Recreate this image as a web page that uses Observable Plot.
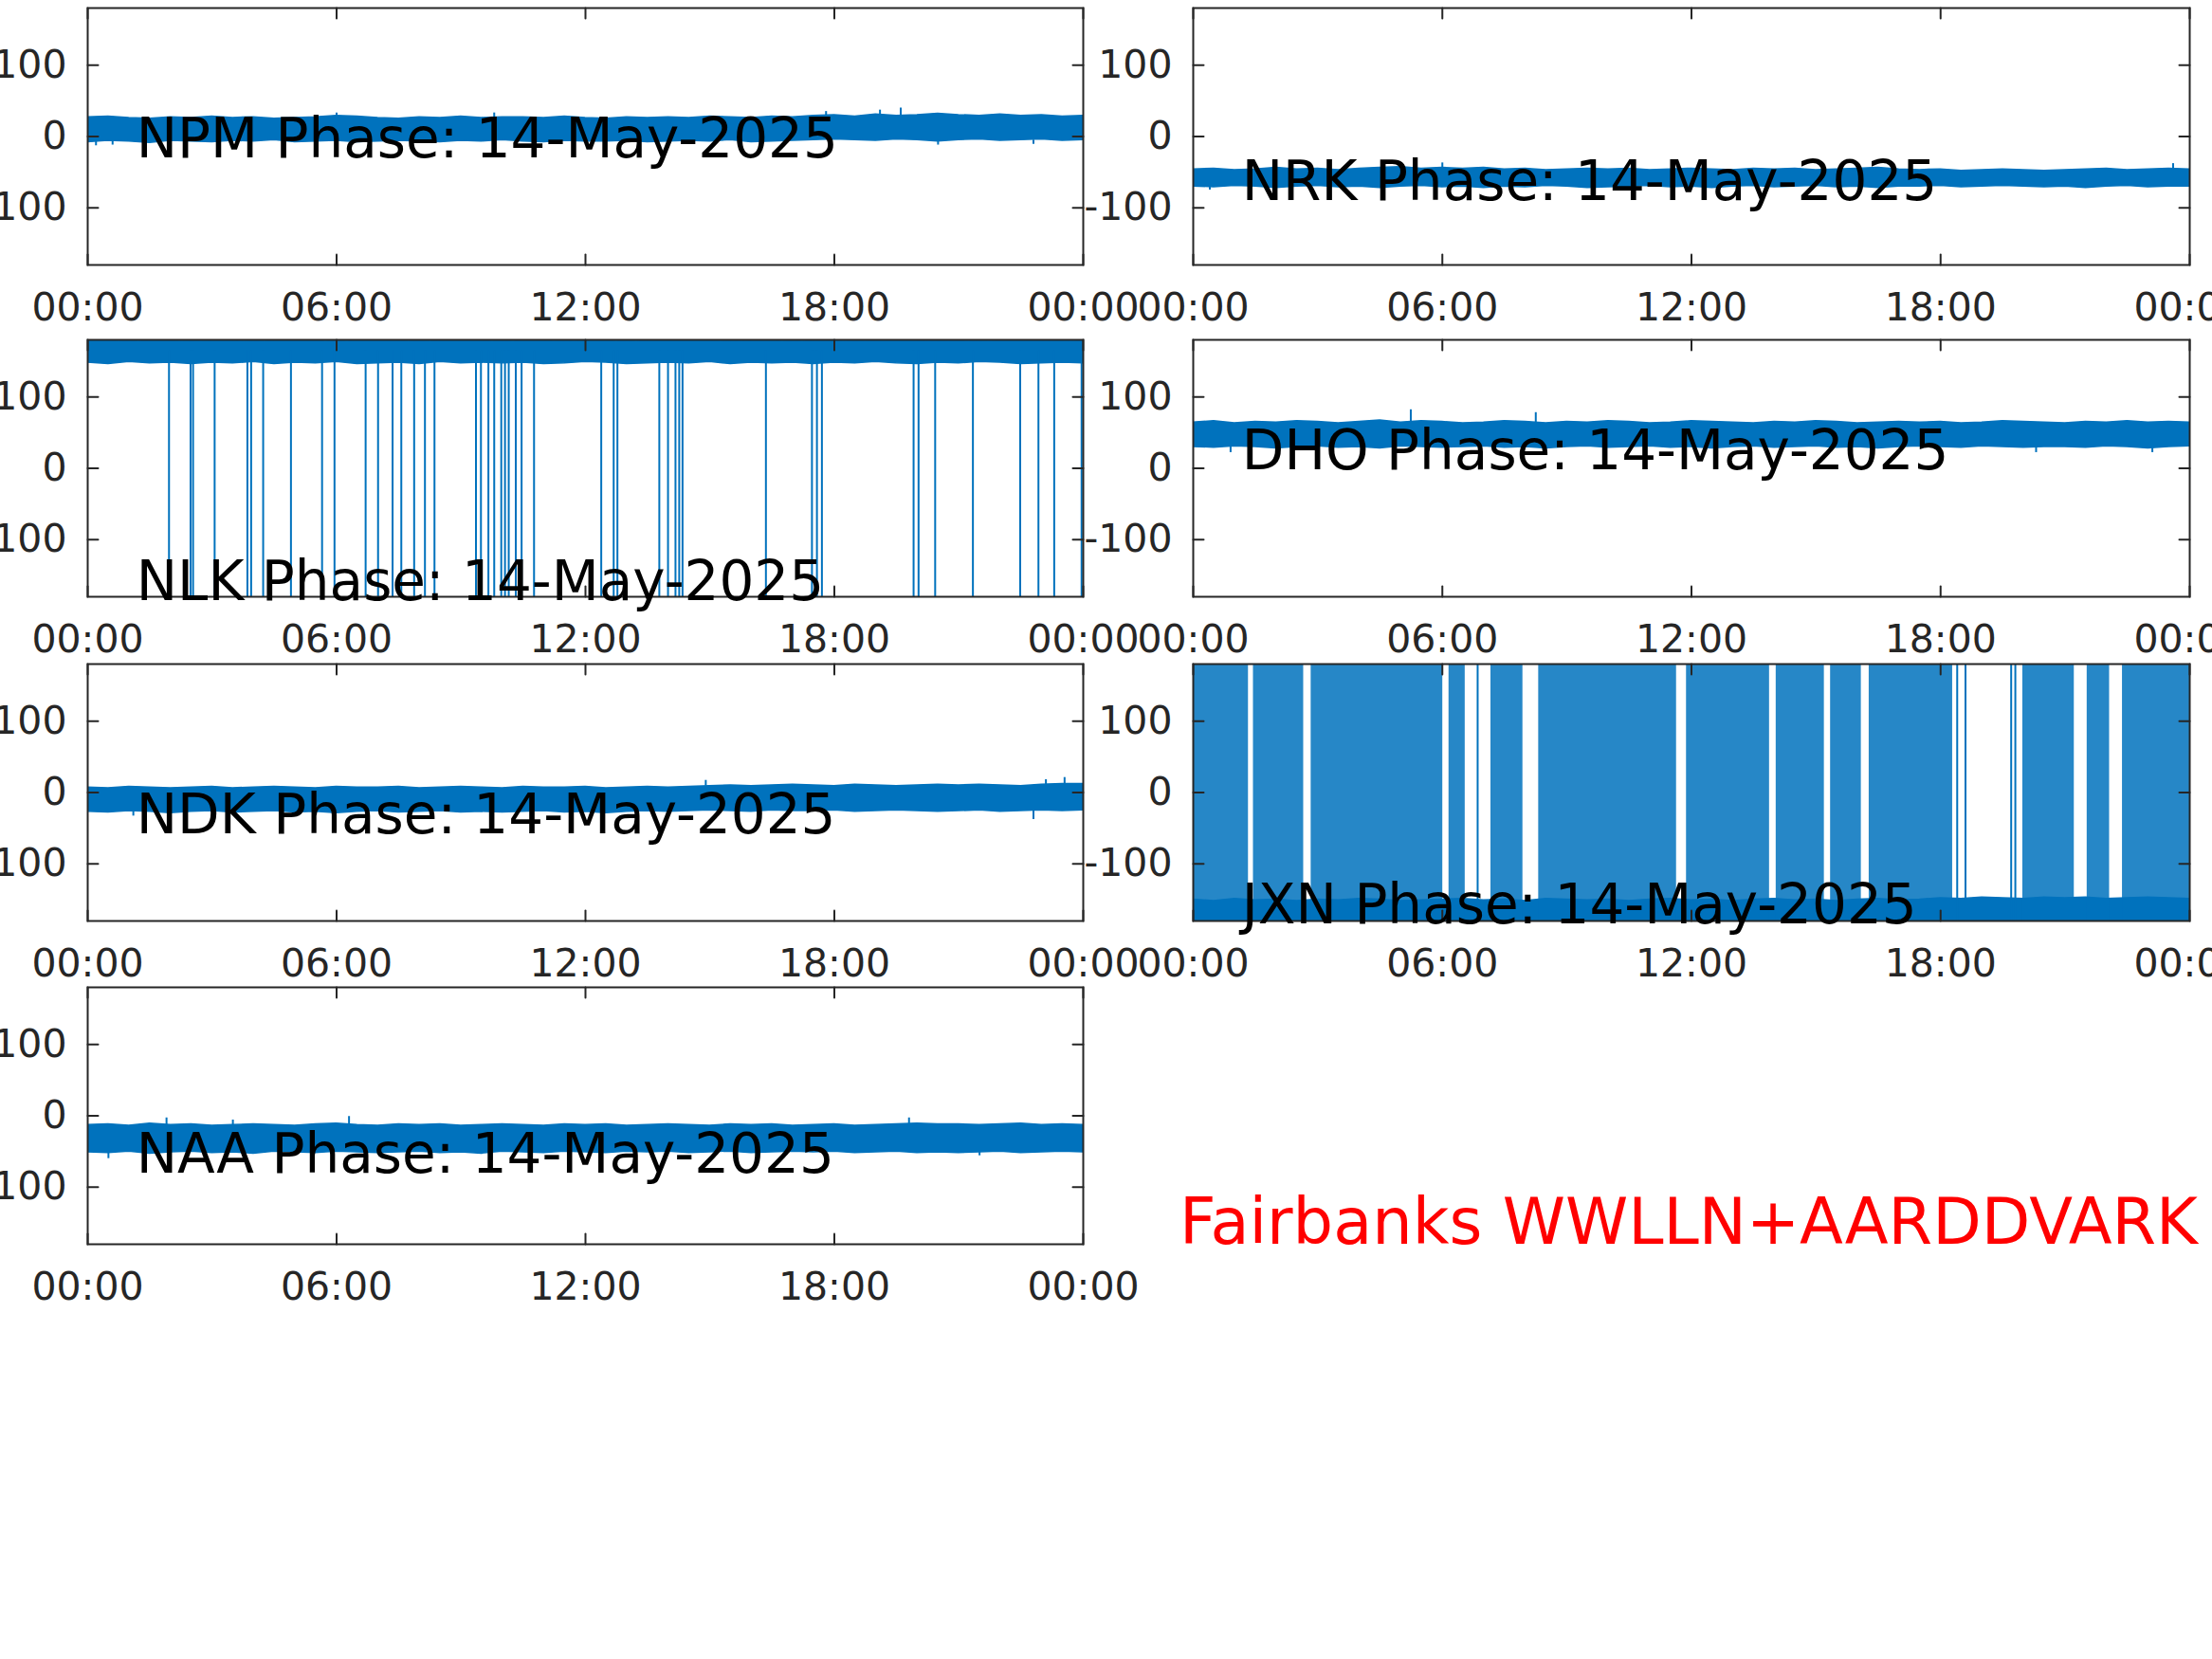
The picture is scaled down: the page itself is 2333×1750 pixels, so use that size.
<!DOCTYPE html>
<html>
<head>
<meta charset="utf-8">
<script src="https://cdn.jsdelivr.net/npm/d3@7"></script>
<script src="https://cdn.jsdelivr.net/npm/@observablehq/plot@0.6"></script>
<style>
html, body { margin: 0; padding: 0; background: #fff; }
#root { position: relative; width: 2333px; height: 1750px; overflow: hidden; background: #fff; font-family: "DejaVu Sans"; }
.panel { position: absolute; }
#caption { position: absolute; left: 1244px; top: 1256px; color: #ff0000; font-family: "DejaVu Sans"; font-size: 67px; line-height: 67px; white-space: nowrap; }
</style>
</head>
<body>
<div id="root"><div id="caption">Fairbanks WWLLN+AARDDVARK</div></div>
<script>
// ---------------- data ----------------
const dateLabel = "14-May-2025";
const stations = ["NPM", "NRK", "NLK", "DHO", "NDK", "JXN", "NAA"];

// sample times (hours of the day) for the band envelopes
const hours = [
  0, 0.5, 1, 1.5, 2, 2.5, 3,
  3.5, 4, 4.5, 5, 5.5, 6, 6.5,
  7, 7.5, 8, 8.5, 9, 9.5, 10,
  10.5, 11, 11.5, 12, 12.5, 13, 13.5,
  14, 14.5, 15, 15.5, 16, 16.5, 17,
  17.5, 18, 18.5, 19, 19.5, 20, 20.5,
  21, 21.5, 22, 22.5, 23, 23.5, 24
];

// phase envelopes (degrees): lower / upper edge of the noisy trace
const npmLo = [-8,-6,-7,-9,-6,-7,-8, -6,-7,-5,-8,-7,-6,-8, -7,-6,-7,-8,-6,-7,-5, -7,-8,-6,-7,-7,-6,-8, -7,-6,-7,-5,-8,-7,-6, -5,-4,-5,-6,-4,-5,-7, -5,-4,-6,-5,-4,-6,-5];
const npmHi = [27,28,26,25,27,26,28, 26,27,25,26,27,29,28, 26,25,27,26,28,26,27, 27,26,28,26,25,27,26, 27,26,28,27,26,28,27, 29,30,28,31,29,30,32, 30,29,31,29,30,28,29];

const nrkLo = [-70,-71,-69,-70,-72,-70,-69, -71,-70,-72,-70,-69,-71,-70, -72,-70,-71,-69,-70,-72,-71, -70,-69,-71,-70,-72,-70,-69, -71,-70,-69,-71,-70,-72,-70, -70,-69,-71,-70,-69,-70,-71, -70,-72,-70,-69,-71,-70,-70];
const nrkHi = [-46,-45,-47,-46,-44,-46,-45, -47,-45,-44,-43,-45,-44,-45, -44,-46,-45,-47,-46,-45,-46, -45,-47,-46,-45,-46,-47,-45, -46,-45,-47,-46,-45,-44,-46, -47,-46,-48,-47,-46,-47,-48, -47,-46,-45,-47,-46,-45,-46];

const nlkLo = [148,146,149,147,148,146,148, 147,149,146,148,147,149,146, 147,148,146,149,147,148,147, 148,146,147,149,148,146,147, 148,147,149,146,148,147,148, 146,148,147,149,147,146,148, 147,149,148,146,147,148,147];
const nlkHi = [179,179,178,179,179,178,179, 179,178,179,179,179,178,179, 179,179,178,179,179,179,178, 179,179,178,179,179,178,179, 179,179,179,178,179,179,178, 179,179,178,179,179,179,178, 179,178,179,179,179,178,179];

const dhoLo = [30,29,31,30,28,30,31, 29,30,28,31,30,29,30, 31,29,30,28,30,31,29, 30,31,29,30,28,30,31, 29,30,31,29,30,28,30, 31,30,29,31,30,29,30, 30,29,31,30,28,30,31];
const dhoHi = [64,66,63,65,64,66,65, 63,65,67,64,66,65,63, 64,66,65,63,65,64,66, 65,63,64,66,65,64,63, 65,64,66,65,63,64,65, 64,65,63,64,66,65,64, 63,65,64,66,64,65,64];

const ndkLo = [-27,-28,-26,-27,-29,-27,-26, -28,-27,-26,-28,-27,-29,-27, -26,-28,-27,-26,-28,-27,-28, -27,-26,-28,-27,-29,-27,-26, -27,-26,-25,-26,-27,-25,-26, -26,-25,-27,-26,-25,-26,-27, -26,-25,-27,-26,-25,-26,-25];
const ndkHi = [7,6,8,7,6,7,8, 6,7,8,7,6,8,7, 7,8,6,7,8,7,6, 8,7,7,8,6,7,8, 7,8,9,10,9,10,11, 10,9,11,10,9,10,11, 10,11,10,9,11,12,12];

const jxnLo = [-180,-180,-180,-180,-180,-180,-180, -180,-180,-180,-180,-180,-180,-180, -180,-180,-180,-180,-180,-180,-180, -180,-180,-180,-180,-180,-180,-180, -180,-180,-180,-180,-180,-180,-180, -180,-180,-180,-180,-180,-180,-180, -180,-180,-180,-180,-180,-180,-180];
const jxnHi = [-150,-152,-149,-151,-150,-152,-150, -151,-149,-150,-152,-151,-150,-149, -151,-150,-152,-149,-150,-151,-150, -152,-150,-149,-151,-150,-152,-150, -149,-151,-150,-152,-150,-149,-151, -150,-148,-149,-147,-148,-149,-147, -148,-147,-149,-148,-147,-148,-149];

const naaLo = [-51,-52,-50,-53,-51,-50,-52, -51,-53,-50,-51,-52,-50,-51, -52,-51,-50,-52,-51,-53,-50, -51,-52,-50,-51,-52,-50,-51, -50,-52,-51,-50,-52,-51,-50, -51,-50,-52,-51,-50,-52,-51, -52,-51,-50,-52,-51,-50,-51];
const naaHi = [-13,-12,-14,-11,-13,-12,-14, -13,-12,-13,-14,-12,-11,-13, -14,-12,-13,-12,-14,-13,-12, -13,-14,-12,-13,-12,-14,-13, -12,-13,-14,-12,-13,-12,-14, -13,-12,-14,-13,-12,-11,-12, -12,-13,-12,-11,-13,-12,-13];

// isolated noise spikes beyond the band: hour, base phase, tip phase
const spikeHour = {
  NPM: [0.2, 0.6, 6.0, 9.8, 17.8, 19.1, 19.6, 20.5, 22.8],
  NRK: [0.4, 6.0, 23.6],
  DHO: [0.9, 5.24, 8.25, 20.3, 23.1],
  NDK: [1.1, 14.9, 22.8, 23.1, 23.55],
  NAA: [0.5, 1.9, 3.5, 6.3, 19.8, 21.5]
};
const spikeBase = {
  NPM: [-6, -6, 26, 26, 28, 29, 30, -5, -5],
  NRK: [-70, -45, -46],
  DHO: [30, 64, 64, 30, 30],
  NDK: [-27, 9, -26, 11, 12],
  NAA: [-51, -13, -13, -13, -12, -51]
};
const spikeTip = {
  NPM: [-13, -12, 33, 33, 35, 37, 40, -12, -11],
  NRK: [-75, -37, -38],
  DHO: [22, 82, 78, 22, 22],
  NDK: [-33, 17, -38, 18, 21],
  NAA: [-60, -3, -6, -1, -3, -56]
};

// phase-wrap events (hours) where the trace jumps across +/-180
const nlkWrapHours = [1.96,2.48,2.54,3.06,3.85,3.94,4.23,4.90,5.65,5.95,6.70,7.00,7.35,7.56,7.87,8.13,8.36,
  9.36,9.48,9.66,9.80,9.97,10.06,10.15,10.32,10.46,10.76,12.38,12.68,12.77,13.78,13.99,14.17,14.26,14.34,
  16.35,17.46,17.58,17.70,19.91,20.03,20.43,21.34,22.48,22.92,23.30,23.96];
// JXN: spans (start hour, end hour) of continuous wrapping, plus isolated wraps
const jxnWrapStart = [0.00,1.45,2.84,6.16,7.17,8.32,11.88,14.04,15.35,16.28,19.98,21.53,22.38];
const jxnWrapEnd   = [1.33,2.66,6.01,6.55,7.94,11.64,13.88,15.20,16.09,18.29,21.22,22.07,24.00];
const jxnWrapHours = [6.85,18.40,18.60,19.70,19.80];

// label anchor phase (deg) for each station title
const labelPhase = [-5, -64.5, -160, 22.7, -33, -159, -54.7];
const labelHour = 1.17;

// axes
const xDomain = [0, 24];
const yDomain = [-180, 180];
const xTicks = [0, 6, 12, 18, 24];
const xTickLabels = ["00:00", "06:00", "12:00", "18:00", "00:00"];
const yTicks = [-100, 0, 100];
const yTickLabels = ["-100", "0", "100"];

// ---------------- drawing ----------------
const blue = "#0072BD";
const axisColor = "#262626";
const envelopes = {
  NPM: [npmLo, npmHi], NRK: [nrkLo, nrkHi], NLK: [nlkLo, nlkHi], DHO: [dhoLo, dhoHi],
  NDK: [ndkLo, ndkHi], JXN: [jxnLo, jxnHi], NAA: [naaLo, naaHi]
};
const wrapLines = { NLK: nlkWrapHours, JXN: jxnWrapHours };
const wrapSpans = { JXN: jxnWrapStart.map((s, i) => ({s, e: jxnWrapEnd[i]})) };

const colX = [92, 1258], colW = [1050, 1051];
const rowY = [8, 358, 700, 1041], panelH = 271;
const ml = 110, mr = 80, mt = 20, mb = 80;
const tickShape = { draw(ctx, l) { ctx.moveTo(0, 0); ctx.lineTo(0, -l); } };

const root = document.getElementById("root");
stations.forEach((st, i) => {
  const col = i === 6 ? 0 : i % 2;
  const row = Math.floor(i / 2);
  const w = colW[col];
  const [lo, hi] = envelopes[st];
  const rows = hours.map((t, k) => ({t, lo: lo[k], hi: hi[k]}));
  const marks = [
    Plot.areaY(rows, {x: "t", y1: "lo", y2: "hi", fill: blue, stroke: blue, strokeWidth: 1.5, clip: true})
  ];
  if (spikeHour[st]) {
    const sp = spikeHour[st].map((t, k) => ({t, b: spikeBase[st][k], e: spikeTip[st][k]}));
    marks.push(Plot.ruleX(sp, {x: "t", y1: "b", y2: "e", stroke: blue, strokeWidth: 2, clip: true}));
  }
  if (wrapSpans[st]) {
    marks.push(Plot.rectX(wrapSpans[st], {x1: "s", x2: "e", y1: () => yDomain[0], y2: () => yDomain[1], fill: blue, fillOpacity: 0.85, clip: true}));
  }
  if (wrapLines[st]) {
    marks.push(Plot.ruleX(wrapLines[st], {x: d => d, y1: () => yDomain[0], y2: () => (st === "NLK" ? 165 : yDomain[1]), stroke: blue, strokeWidth: 2, clip: true}));
  }
  marks.push(
    Plot.frame({stroke: axisColor, strokeWidth: 2}),
    Plot.vector(xTicks, {x: d => d, frameAnchor: "bottom", rotate: 0, anchor: "start", length: 11, shape: tickShape, stroke: axisColor, strokeWidth: 2}),
    Plot.vector(xTicks, {x: d => d, frameAnchor: "top", rotate: 180, anchor: "start", length: 11, shape: tickShape, stroke: axisColor, strokeWidth: 2}),
    Plot.vector(yTicks, {y: d => d, frameAnchor: "left", rotate: 90, anchor: "start", length: 11, shape: tickShape, stroke: axisColor, strokeWidth: 2}),
    Plot.vector(yTicks, {y: d => d, frameAnchor: "right", rotate: -90, anchor: "start", length: 11, shape: tickShape, stroke: axisColor, strokeWidth: 2}),
    Plot.axisX({anchor: "bottom", ticks: xTicks, tickSize: 0, tickPadding: 29, tickFormat: d => xTickLabels[xTicks.indexOf(d)], fontSize: 41, fill: axisColor, label: null}),
    Plot.axisY({anchor: "left", ticks: yTicks, tickSize: 0, tickPadding: 22, tickFormat: d => yTickLabels[yTicks.indexOf(d)], fontSize: 41, fill: axisColor, label: null}),
    Plot.text([`${st} Phase: ${dateLabel}`], {x: () => labelHour, y: () => labelPhase[i], text: d => d, textAnchor: "start", lineAnchor: "middle", fontSize: 58, fill: "#000"})
  );
  const svg = Plot.plot({
    width: w + ml + mr,
    height: panelH + mt + mb,
    marginLeft: ml, marginRight: mr, marginTop: mt, marginBottom: mb,
    x: {domain: xDomain, label: null},
    y: {domain: yDomain, label: null},
    marks
  });
  svg.style.overflow = "visible";
  svg.style.maxWidth = "none";
  svg.style.background = "transparent";
  svg.setAttribute("font-family", "DejaVu Sans");
  const div = document.createElement("div");
  div.className = "panel";
  div.style.left = (colX[col] - ml) + "px";
  div.style.top = (rowY[row] - mt) + "px";
  div.style.width = (w + ml + mr) + "px";
  div.appendChild(svg);
  root.appendChild(div);
});
</script>
</body>
</html>
